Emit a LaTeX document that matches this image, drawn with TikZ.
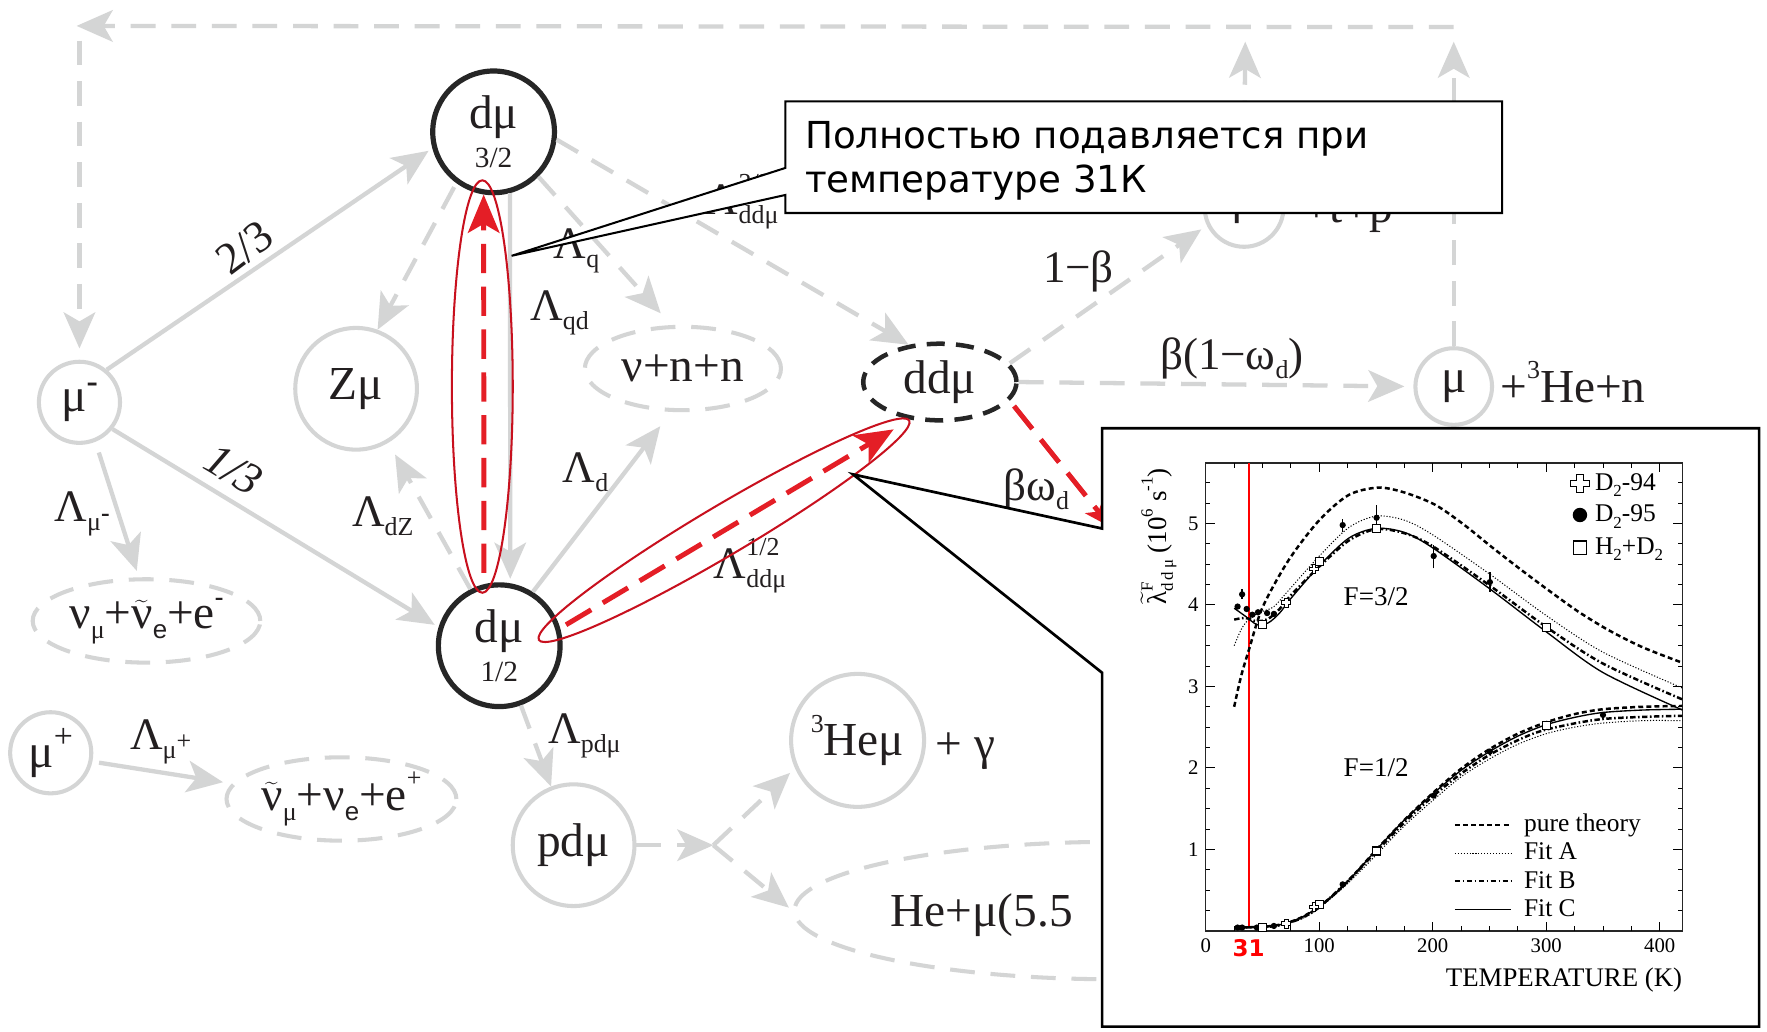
\documentclass[tikz,border=0pt]{standalone}
\usepackage{fontspec}
\setmainfont{Liberation Serif}
\setsansfont{Liberation Sans}
\newfontfamily\cfont{DejaVu Sans}
\usetikzlibrary{arrows.meta,shapes.geometric}
\definecolor{lg}{RGB}{212,213,213}
\definecolor{dk}{RGB}{38,38,38}
\definecolor{txt}{RGB}{35,31,32}
\definecolor{rd}{RGB}{228,30,38}
\definecolor{rdl}{RGB}{200,16,30}
\newcommand\mylo[1]{\raisebox{-0.2em}{\fontsize{11.5}{12}\selectfont #1}}
\newcommand\myhi[1]{\raisebox{0.5em}{\fontsize{11.5}{12}\selectfont #1}}
\newcommand\plo[1]{\raisebox{-0.25em}{\fontsize{7.5}{8}\selectfont #1}}
\newcommand\pup[1]{\raisebox{0.5em}{\fontsize{7.5}{8}\selectfont #1}}
\tikzset{
  gc/.style={circle, draw=lg, line width=1.8pt, inner sep=0pt, text=txt, font=\fontsize{21}{24}\selectfont},
  dc/.style={circle, draw=dk, line width=2.3pt, inner sep=0pt, text=txt, font=\fontsize{21}{24}\selectfont, align=center},
  ge/.style={ellipse, draw=lg, line width=1.8pt, dash pattern=on 11pt off 7pt, inner sep=0pt, text=txt, font=\fontsize{21}{24}\selectfont},
  de/.style={ellipse, draw=dk, line width=2pt, dash pattern=on 8pt off 5pt, inner sep=0pt, text=txt, font=\fontsize{21}{24}\selectfont},
  gline/.style={draw=lg, line width=1.9pt, -{Stealth[length=16pt,width=14pt,inset=4pt]}},
  gdash/.style={gline, dash pattern=on 11pt off 7pt},
  rdash/.style={draw=rd, line width=2.2pt, dash pattern=on 13pt off 6pt, -{Stealth[length=17pt,width=14pt,inset=4pt]}},
  redell/.style={draw=rdl, line width=0.9pt},
  lab/.style={text=txt, font=\fontsize{20}{24}\selectfont, inner sep=0pt},
  lab21/.style={text=txt, font=\fontsize{21}{24}\selectfont, inner sep=0pt},
  callout/.style={draw=black, line width=0.9pt, fill=white},
  ptxt/.style={text=black, font=\fontsize{11.3}{13}\selectfont, inner sep=0pt},
  tick/.style={text=black, font=\fontsize{9.2}{10}\selectfont, inner sep=0pt},
  pth/.style={line width=1.1pt, dash pattern=on 2.2pt off 1.4pt},
  fa/.style={line width=0.45pt, dash pattern=on 0.5pt off 0.8pt},
  fb/.style={line width=1.1pt, dash pattern=on 2.4pt off 1.1pt on 0.7pt off 1.1pt},
  fc/.style={line width=0.6pt},
  crosspic/.pic={\draw[line width=0.4pt, fill=white] (-0.7pt,-2pt) -- (0.7pt,-2pt) -- (0.7pt,-0.7pt) -- (2pt,-0.7pt) -- (2pt,0.7pt) -- (0.7pt,0.7pt) -- (0.7pt,2pt) -- (-0.7pt,2pt) -- (-0.7pt,0.7pt) -- (-2pt,0.7pt) -- (-2pt,-0.7pt) -- (-0.7pt,-0.7pt) -- cycle;},
  sqpic/.pic={\draw[line width=0.5pt, fill=white] (-1.8pt,-1.8pt) rectangle (1.8pt,1.8pt);},
  dotpic/.pic={\fill (0,0) circle[radius=1.4pt];}
}
\begin{document}
\begin{tikzpicture}[x=0.5pt,y=-0.5pt]
\fill[white] (0,0) rectangle (1568,915);
\useasboundingbox (0,0) rectangle (1568,915);

% ---------- nodes ----------
\node[gc, minimum size=36pt] (mum) at (70.5,357) {μ\raisebox{0.42em}{\fontsize{15}{15}\selectfont\bfseries -}};
\node[gc, minimum size=54pt] (zmu) at (316,345) {Zμ};
\node[dc, minimum size=54pt] (d32) at (438,117) {dμ\\[-7pt]{\fontsize{13}{13}\selectfont 3/2}};
\node[dc, minimum size=54pt] (d12) at (443,573) {dμ\\[-7pt]{\fontsize{13}{13}\selectfont 1/2}};
\node[gc, minimum size=36pt] (mup) at (45,668) {μ\raisebox{0.42em}{\fontsize{15}{15}\selectfont +}};
\node[ge, minimum width=101pt, minimum height=37pt] (nu1) at (130,551) {ν\mylo{μ}+$\widetilde{\hbox{ν}}$\mylo{\sffamily e}+e\myhi{\bfseries -}};
\node[ge, minimum width=102pt, minimum height=37pt] (nu2) at (303,709) {$\widetilde{\hbox{ν}}$\mylo{μ}+ν\mylo{\sffamily e}+e\myhi{+}};
\node[gc, minimum size=54pt] (pdm) at (509,750) {pdμ};
\node[gc, minimum size=59pt] (hemu) at (761,657) {\myhi{3}Heμ};
\node[lab21, anchor=base west] (gam) at (830,674) {+ γ};
\node[ge, minimum width=285pt, minimum height=61pt] (he) at (990,808) {};
\node[lab21, anchor=base west] (het) at (790,822) {He+μ(5.5};
\node[ge, minimum width=87pt, minimum height=37pt] (nnn) at (606,327) {ν+n+n};
\node[de, minimum width=68pt, minimum height=34pt] (ddm) at (834,339) {ddμ};
\node[gc, minimum size=35pt] (mutp) at (1104,184) {μ};
\node[lab21, anchor=base west] (tpt) at (1156,197) {+t+p};
\node[gc, minimum size=34pt] (mu3) at (1290,343) {μ};
\node[lab21, anchor=base west] (he3t) at (1331,357) {+\myhi{3}He+n};

% ---------- top loop ----------
\coordinate (tR) at (1290,24);
\coordinate (tL) at (68,23);
\coordinate (vL) at (70.5,36);
\coordinate (upA) at (1290,37);
\coordinate (upB) at (1105,37);
\draw[gdash] (mu3.north) -- (upA);
\draw[gdash] (mutp.north) -- (upB);
\draw[gdash] (tR) -- (tL);
\draw[gdash, shorten >=5pt] (vL) -- (mum.north);

% ---------- gray connectors ----------
\draw[gline, shorten >=2pt] (mum.50) -- (d32.195);
\node[lab, rotate=37] (l23) at (217,220) {2/3};
\draw[gline, shorten >=2pt] (mum.-39) -- (d12.163);
\node[lab, rotate=-31, font=\fontsize{20}{24}\selectfont\itshape] (l13) at (207,417) {1/3};
\draw[gline, shorten <=5pt, shorten >=3pt] (mum.-68) -- (nu1.100);
\node[lab, anchor=base west] (lmum) at (48,463) {Λ\mylo{μ\raisebox{0.35em}{\bfseries -}}};
\draw[gline, shorten <=3pt, shorten >=4pt] (mup.-12) -- (nu2.172);
\node[lab, anchor=base west] (lmup) at (115,665) {Λ\mylo{μ\raisebox{0.35em}{+}}};

\draw[gdash, shorten <=2pt] (d32.234) -- (zmu.70);
\draw[gline, shorten >=2pt] (d32.-75) -- (d12.80);
\draw[gdash, shorten >=7pt] (d32.-45) -- (nnn.105);
\draw[gdash] (d32.-7) -- (ddm.130);
\draw[gline, shorten >=8pt] (d12.58) -- (nnn.255);
\draw[gdash, shorten >=6pt] (d12.117) -- (zmu.-59);
\draw[gdash] (d12.-70) -- (pdm.111);
\coordinate (jn) at (633,750);
\draw[gdash] (pdm.east) -- (jn);
\draw[gdash, shorten >=3pt] (jn) -- (hemu.204);
\draw[gdash, shorten >=2pt] (jn) -- (he.west);
\draw[gdash, shorten >=3pt] (ddm.15) -- (mutp.206);
\draw[gdash, shorten >=4pt] (ddm.east) -- (mu3.west);

% ---------- labels ----------
\node[lab, anchor=base west] (lq) at (491,229) {Λ\mylo{q}};
\node[lab, anchor=base west] (lqd) at (470,284) {Λ\mylo{qd}};
\node[lab, anchor=base west] (ld) at (499,428) {Λ\mylo{d}};
\node[lab, anchor=base west] (ldz) at (312,467) {Λ\mylo{dZ}};
\node[lab, anchor=base west] (lpd) at (486,660) {Λ\mylo{pdμ}};
\node[lab, anchor=base west] (l12) at (633,513) {Λ\rlap{\myhi{1/2}}\mylo{ddμ}};
\node[lab, anchor=base west] (l32) at (626,190) {Λ\rlap{\myhi{3/2}}\mylo{ddμ}};
\node[lab, anchor=base] (l1b) at (957,251) {1−β};
\node[lab, anchor=base west] (lbw) at (1029,328) {β(1−ω\mylo{d})};
\node[lab, anchor=base west] (lbwd) at (890,444) {βω\mylo{d}};

% ---------- red ----------
\draw[redell] (428,343) ellipse [x radius=13.5pt, y radius=91.5pt];
\draw[redell, rotate around={30.66:(642.5,470.5)}] (642.5,470.5) ellipse [x radius=95.5pt, y radius=11pt];
\draw[rdash, shorten <=5pt] (d12.104) -- (d32.-99);
\coordinate (ddin) at (793,381);
\draw[rdash, shorten <=3pt] (d12.16) -- (ddin);
\coordinate (bxc) at (986,468);
\draw[rdash, shorten <=3pt, -{Stealth[length=12pt,width=10pt,inset=3pt]}] (ddm.-15) -- (bxc);

% ---------- callout 1 ----------
\draw[callout] (697,90) -- (1333,90) -- (1333,189) -- (697,189) -- (697,173) -- (454,227) -- (697,149) -- cycle;
\node[anchor=base west, inner sep=0pt, font=\cfont\fontsize{16.5}{19}\selectfont] (ct1) at (714,132) {Полностью подавляется при};
\node[anchor=base west, inner sep=0pt, font=\cfont\fontsize{16.5}{19}\selectfont] (ct2) at (714,171) {температуре 31К};

% ---------- callout 2 (plot) ----------
\draw[callout, line width=1.2pt] (978,380) -- (1561,380) -- (1561,911) -- (978,911) -- (978,597) -- (757,421) -- (978,469) -- cycle;

\begin{scope}[shift={(1070,826)}, x=0.5035pt, y=36.15pt]
  \draw[line width=0.6pt, draw=black!85] (0,0) rectangle (420,5.74);
  \foreach \v in {0.25,0.5,...,5.6} {
    \draw[line width=0.4pt] (0,\v) -- ++(2pt,0);
    \draw[line width=0.4pt] (420,\v) -- ++(-2pt,0);
  }
  \foreach \v in {1,...,5} {
    \draw[line width=0.5pt] (0,\v) -- ++(4pt,0);
    \draw[line width=0.5pt] (420,\v) -- ++(-4pt,0);
    \node[tick, anchor=east] (ty\v) at ([xshift=-3pt]0,\v) {\v};
  }
  \foreach \t in {25,50,...,400} {
    \draw[line width=0.4pt] (\t,0) -- ++(0,2pt);
    \draw[line width=0.4pt] (\t,5.74) -- ++(0,-2pt);
  }
  \foreach \t in {100,200,300,400} {
    \draw[line width=0.5pt] (\t,0) -- ++(0,4pt);
    \draw[line width=0.5pt] (\t,5.74) -- ++(0,-4pt);
  }
  \foreach \t in {0,100,200,300,400} {
    \node[tick, anchor=base] (tx\t) at ([yshift=-9.5pt]\t,0) {\t};
  }
  % red marker
  \draw[red, line width=1.15pt] (38.2,0.05) -- (38.2,5.74);
  % F=3/2 curves
  \draw[pth] plot[smooth] coordinates {(25,2.75) (31,3.12) (38,3.45) (50,3.97) (73,4.55) (100,5.04) (126,5.35) (152,5.44) (175,5.38) (202,5.23) (227,4.99) (252,4.71) (277,4.44) (302,4.18) (328,3.92) (355,3.69) (385,3.48) (420,3.29)};
  \draw[fa] plot[smooth] coordinates {(25,3.5) (32,3.72) (40,3.85) (50,3.92) (60,3.98) (73,4.18) (100,4.6) (126,4.95) (150,5.09) (175,5.04) (200,4.86) (250,4.38) (300,3.87) (350,3.42) (420,2.98)};
  \draw[fb] plot[smooth] coordinates {(25,3.82) (35,3.84) (45,3.8) (55,3.83) (65,3.95) (75,4.12) (100,4.47) (126,4.79) (150,4.93) (175,4.88) (200,4.72) (250,4.24) (300,3.73) (350,3.28) (420,2.84)};
  \draw[fc] plot[smooth] coordinates {(25,3.96) (35,3.86) (45,3.76) (55,3.78) (65,3.9) (75,4.08) (100,4.48) (126,4.82) (150,4.94) (175,4.89) (200,4.7) (250,4.2) (300,3.67) (350,3.17) (420,2.71)};
  % F=1/2 curves
  \draw[fc] plot[smooth] coordinates {(25,0.04) (40,0.045) (55,0.055) (70,0.09) (85,0.17) (100,0.3) (115,0.47) (130,0.68) (150,0.99) (175,1.36) (200,1.68) (225,1.97) (250,2.2) (275,2.39) (300,2.53) (325,2.62) (350,2.68) (385,2.71) (420,2.72)};
  \draw[pth] plot[smooth] coordinates {(25,0.04) (40,0.045) (55,0.055) (70,0.09) (85,0.17) (100,0.3) (115,0.47) (130,0.68) (150,0.99) (175,1.36) (200,1.69) (225,1.99) (250,2.23) (275,2.42) (300,2.56) (325,2.66) (350,2.72) (385,2.75) (420,2.76)};
  \draw[fa] plot[smooth] coordinates {(25,0.04) (55,0.05) (70,0.08) (85,0.15) (100,0.28) (125,0.58) (150,0.93) (175,1.29) (200,1.6) (225,1.89) (250,2.11) (275,2.29) (300,2.42) (325,2.5) (350,2.55) (385,2.58) (420,2.58)};
  \draw[fb] plot[smooth] coordinates {(25,0.04) (55,0.05) (70,0.085) (85,0.16) (100,0.29) (125,0.61) (150,0.97) (175,1.33) (200,1.65) (225,1.93) (250,2.16) (275,2.34) (300,2.47) (350,2.6) (420,2.64)};
  % error bars
  \foreach \x/\a/\b in {32/4.07/4.19, 120.6/4.9/5.06, 150.5/4.95/5.23, 200.8/4.45/4.73, 250.3/4.16/4.4}
    \draw[line width=0.6pt] (\x,\a) -- (\x,\b);
  % points
  \foreach \x/\y in {28/3.98, 32/4.13, 36/3.95, 41/3.88, 46/3.91, 54/3.9, 60/3.89, 120.6/4.98, 150.5/5.07, 200.8/4.6, 250.3/4.28,
                     28/0.04, 32/0.04, 45/0.04, 60/0.06, 120.6/0.57, 150.5/0.98, 200.8/1.66, 250.3/2.2, 350/2.65}
    \pic at (\x,\y) {dotpic};
  \foreach \x/\y in {50/3.76, 100/4.53, 150.5/4.94, 300.5/3.72, 50/0.04, 100/0.32, 150.5/0.98, 300.5/2.52}
    \pic at (\x,\y) {sqpic};
  \foreach \x/\y in {71/4.03, 95/4.44, 71/0.09, 95/0.29}
    \pic at (\x,\y) {crosspic};
\end{scope}

% plot texts
\node[anchor=base, inner sep=0pt, text=red, font=\cfont\bfseries\fontsize{10.2}{11}\selectfont] (n31) at (1108,849) {31};
\node[anchor=base east, inner sep=0pt, font=\fontsize{11.9}{13}\selectfont] (xlab) at (1493,875) {TEMPERATURE (K)};
\node[rotate=90, inner sep=0pt, font=\fontsize{12}{13}\selectfont] (ylab) at (1028,476) {$\widetilde{\hbox{λ}}$\rlap{\pup{F}}\plo{d\,d\,μ} (10\pup{6} s\pup{-1})};
\node[anchor=base west, ptxt, font=\fontsize{12}{13}\selectfont] (f32) at (1192,537) {F=3/2};
\node[anchor=base west, ptxt, font=\fontsize{12}{13}\selectfont] (f12) at (1192,689) {F=1/2};
% legend top right
\pic[scale=2.1] at (1402,429) {crosspic};
\fill (1402,457) circle[radius=3.2pt];
\draw[line width=0.6pt] (1396,480) rectangle (1408,492);
\node[ptxt, anchor=base west] (lg1) at (1415,435) {D\plo{2}-94};
\node[ptxt, anchor=base west] (lg2) at (1415,463) {D\plo{2}-95};
\node[ptxt, anchor=base west] (lg3) at (1415,492) {H\plo{2}+D\plo{2}};
% legend bottom
\draw[pth] (1291,732) -- (1341,732);
\draw[fa] (1291,757) -- (1341,757);
\draw[fb] (1291,782) -- (1341,782);
\draw[fc] (1291,807) -- (1341,807);
\node[ptxt, anchor=base west] (lt1) at (1352,738) {pure theory};
\node[ptxt, anchor=base west] (lt2) at (1352,763) {Fit A};
\node[ptxt, anchor=base west] (lt3) at (1352,788) {Fit B};
\node[ptxt, anchor=base west] (lt4) at (1352,813) {Fit C};
\end{tikzpicture}
\end{document}
